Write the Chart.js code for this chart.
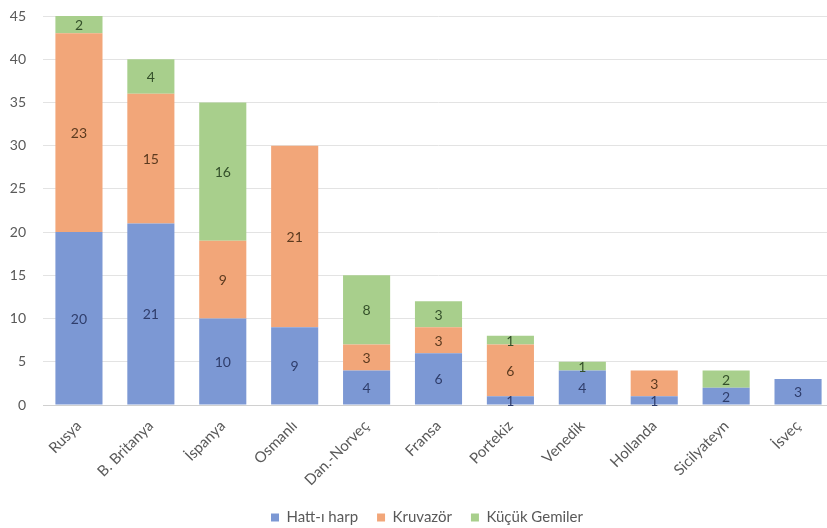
<!DOCTYPE html>
<html>
<head>
<meta charset="utf-8">
<script src="https://cdn.jsdelivr.net/npm/chart.js@4/dist/chart.umd.min.js"></script>
<style>
  body { margin: 0; background: #fff; overflow: hidden; }
  #wrap { position: relative; width: 834px; height: 528px; }
</style>
</head>
<body>
<div id="wrap"><canvas id="myChart"></canvas></div>
<script>
// ulkeler ve gemi sayilari
var ulkeler = ['Rusya', 'B. Britanya', 'İspanya', 'Osmanlı', 'Dan.-Norveç', 'Fransa', 'Portekiz', 'Venedik', 'Hollanda', 'Sicilyateyn', 'İsveç'];
var hattiHarp = [20, 21, 10, 9, 4, 6, 1, 4, 1, 2, 3];
var kruvazor = [23, 15, 9, 21, 3, 3, 6, 0, 3, 0, 0];
var kucukGemiler = [2, 4, 16, 0, 8, 3, 1, 1, 0, 2, 0];
var yTicks = [0, 5, 10, 15, 20, 25, 30, 35, 40, 45];

var fontAdi = 'Lato, "Open Sans", sans-serif';

// bar ortasina deger yazan basit plugin
var degerYaz = {
  id: 'degerYaz',
  afterDatasetsDraw: function(chart) {
    var ctx = chart.ctx;
    ctx.save();
    ctx.font = '14px ' + fontAdi;
    ctx.textAlign = 'center';
    ctx.textBaseline = 'middle';
    chart.data.datasets.forEach(function(ds, i) {
      var meta = chart.getDatasetMeta(i);
      if (meta.hidden) return;
      meta.data.forEach(function(bar, j) {
        var v = ds.data[j];
        if (!v) return;
        var p = bar.getCenterPoint();
        ctx.fillStyle = ds.labelColor;
        ctx.fillText(v, p.x, p.y + 1);
      });
    });
    ctx.restore();
  }
};

// legend biraz saga kaysin
var legendKaydir = {
  id: 'legendKaydir',
  afterLayout: function(chart) {
    if (chart.legend) {
      chart.legend.left += 10;
      chart.legend.right += 10;
    }
  }
};

let myChart = document.getElementById('myChart').getContext('2d');
let barChart = new Chart(myChart, {
  type: 'bar',
  data: {
    labels: ulkeler,
    datasets: [{
      label: 'Hatt-ı harp',
      data: hattiHarp,
      backgroundColor: '#7c98d4',
      labelColor: '#2f3d6b'
    }, {
      label: 'Kruvazör',
      data: kruvazor,
      backgroundColor: '#f2a679',
      labelColor: '#5c3a1f'
    }, {
      label: 'Küçük Gemiler',
      data: kucukGemiler,
      backgroundColor: '#a8cf8c',
      labelColor: '#34502a'
    }]
  },
  options: {
    responsive: true,
    maintainAspectRatio: false,
    animation: false,
    layout: {
      padding: { left: 0, right: 0, top: 16, bottom: -7 }
    },
    datasets: {
      bar: { barPercentage: 0.655, categoryPercentage: 1 }
    },
    plugins: {
      tooltip: { enabled: false },
      legend: {
        position: 'bottom',
        labels: {
          boxWidth: 8,
          boxHeight: 8,
          padding: 19,
          color: '#595959',
          font: { family: fontAdi, size: 15 }
        }
      }
    },
    scales: {
      x: {
        stacked: true,
        grid: { display: false },
        border: { color: '#d0d0d0' },
        ticks: {
          minRotation: 45,
          maxRotation: 45,
          padding: 4,
          color: '#595959',
          font: { family: fontAdi, size: 15 }
        },
        afterFit: function(scale) { scale.height = 86; }
      },
      y: {
        stacked: true,
        min: 0,
        max: 45,
        afterBuildTicks: function(scale) {
          scale.ticks = yTicks.map(function(t) { return { value: t }; });
        },
        grid: { color: '#e3e3e3', drawTicks: false },
        border: { display: false },
        ticks: {
          padding: 17,
          color: '#595959',
          font: { family: fontAdi, size: 14 }
        },
        afterFit: function(scale) {
          scale.width = 43;
          scale.paddingTop = 0;
          scale.paddingBottom = 0;
        }
      }
    }
  },
  plugins: [degerYaz, legendKaydir]
});
</script>
</body>
</html>
